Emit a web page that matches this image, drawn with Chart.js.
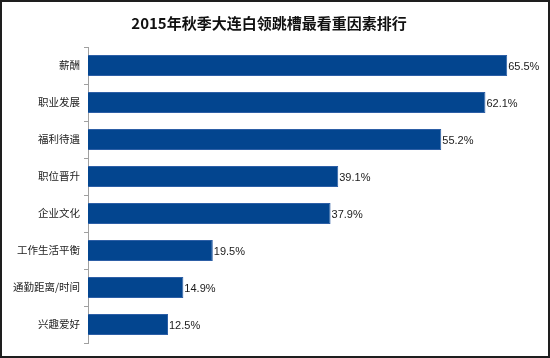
<!DOCTYPE html>
<html>
<head>
<meta charset="utf-8">
<script src="https://cdn.jsdelivr.net/npm/chart.js@4/dist/chart.umd.min.js"></script>
<style>
  html, body { margin: 0; padding: 0; background: #fff; }
  #box { width: 550px; height: 358px; box-sizing: border-box; border: 2px solid #1e1e1e; background: #fff; }
  #box canvas { display: block; }
</style>
</head>
<body>
<div id="box"><canvas id="myChart" width="546" height="354"></canvas></div>
<script>
var factors = ['薪酬', '职业发展', '福利待遇', '职位晋升', '企业文化', '工作生活平衡', '通勤距离/时间', '兴趣爱好'];
var shares = [65.5, 62.1, 55.2, 39.1, 37.9, 19.5, 14.9, 12.5];

// value labels at the end of each bar
var barLabels = {
	id: 'barLabels',
	afterDatasetsDraw(chart) {
		const ctx = chart.ctx;
		const meta = chart.getDatasetMeta(0);
		ctx.save();
		ctx.font = '11px "Liberation Sans", Arial, sans-serif';
		ctx.fillStyle = '#1a1a1a';
		ctx.textAlign = 'left';
		ctx.textBaseline = 'middle';
		meta.data.forEach((bar, i) => {
			ctx.fillText(shares[i].toFixed(1) + '%', bar.x + 1, bar.y + 1);
		});
		ctx.restore();
	}
};

const canvas = document.getElementById('myChart');
const myChart = new Chart(canvas, {
	type: 'bar',
	data: {
		labels: factors,
		datasets: [{
			data: shares,
			backgroundColor: '#03458f',
			borderColor: '#2d5fa6',
			borderWidth: 1,
			borderSkipped: 'left',
			categoryPercentage: 1,
			barPercentage: 0.57
		}]
	},
	options: {
		indexAxis: 'y',
		responsive: false,
		animation: false,
		layout: { padding: { left: 0, right: 12, bottom: 13, top: 0 } },
		plugins: {
			legend: { display: false },
			tooltip: { enabled: false },
			title: {
				display: true,
				text: '2015年秋季大连白领跳槽最看重因素排行',
				color: '#111',
				font: { family: '"Noto Sans CJK SC", sans-serif', size: 15, weight: 'bold', lineHeight: 1.2 },
				padding: { top: 12, bottom: 15 }
			}
		},
		scales: {
			x: {
				display: false,
				min: 0,
				max: 70
			},
			y: {
				afterFit(scale) { scale.width = 86; },
				border: { color: '#a0a0a0', width: 1 },
				grid: { drawOnChartArea: false, drawTicks: true, tickLength: 4, color: '#a0a0a0' },
				ticks: {
					color: '#222',
					padding: 4,
					font: { family: '"Noto Sans CJK SC", sans-serif', size: 10.5 }
				}
			}
		}
	},
	plugins: [barLabels]
});
</script>
</body>
</html>
